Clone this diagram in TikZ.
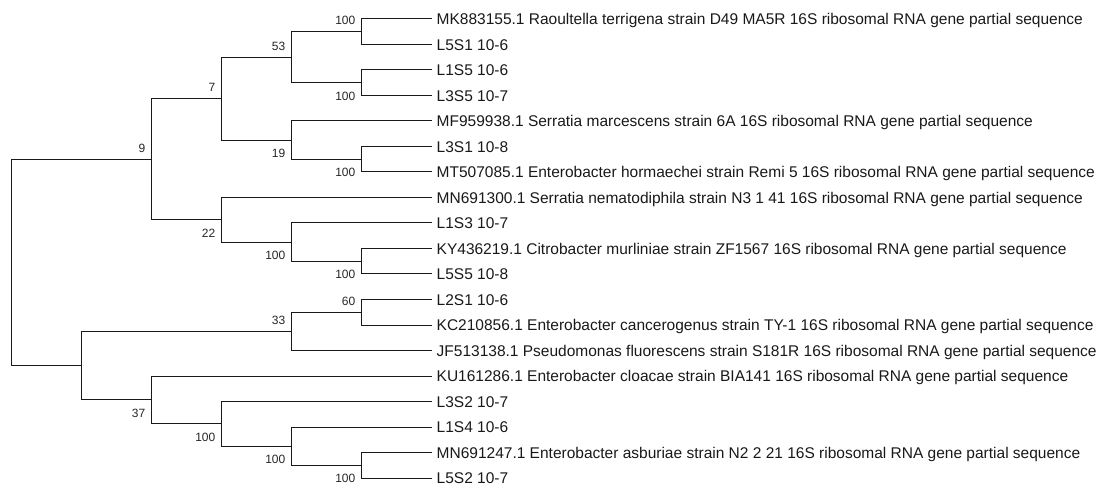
\documentclass[tikz,border=0pt]{standalone}
\usepackage{fontspec}
\setmainfont{Liberation Sans}
\begin{document}
\begin{tikzpicture}[x=1pt,y=-1pt,
  br/.style={line width=1pt,draw=black!90},
  leaf/.style={anchor=base west,inner sep=0pt,font=\fontsize{15.5}{17}\selectfont,text=black!90},
  bsup/.style={anchor=base east,inner sep=0pt,font=\fontsize{12}{14}\selectfont,text=black!85}]
\useasboundingbox (0,0) rectangle (1100,486);
% leaves
\foreach \i/\t in {0/{MK883155.1 Raoultella terrigena strain D49 MA5R 16S ribosomal RNA gene partial sequence},
  1/{L5S1 10-6},2/{L1S5 10-6},3/{L3S5 10-7},
  4/{MF959938.1 Serratia marcescens strain 6A 16S ribosomal RNA gene partial sequence},
  5/{L3S1 10-8},
  6/{MT507085.1 Enterobacter hormaechei strain Remi 5 16S ribosomal RNA gene partial sequence},
  7/{MN691300.1 Serratia nematodiphila strain N3 1 41 16S ribosomal RNA gene partial sequence},
  8/{L1S3 10-7},
  9/{KY436219.1 Citrobacter murliniae strain ZF1567 16S ribosomal RNA gene partial sequence},
  10/{L5S5 10-8},11/{L2S1 10-6},
  12/{KC210856.1 Enterobacter cancerogenus strain TY-1 16S ribosomal RNA gene partial sequence},
  13/{JF513138.1 Pseudomonas fluorescens strain S181R 16S ribosomal RNA gene partial sequence},
  14/{KU161286.1 Enterobacter cloacae strain BIA141 16S ribosomal RNA gene partial sequence},
  15/{L3S2 10-7},16/{L1S4 10-6},
  17/{MN691247.1 Enterobacter asburiae strain N2 2 21 16S ribosomal RNA gene partial sequence},
  18/{L5S2 10-7}}{
  \coordinate (l\i) at (431.5,{19+25.5*\i});
  \node[leaf] (t\i) at (436.5,{19+25.5*\i+5.6}) {\t};
}
% internal nodes
\coordinate (G) at (361.5,31.75);
\coordinate (H) at (361.5,82.75);
\coordinate (E) at (291.5,57.25);
\coordinate (I) at (361.5,159.25);
\coordinate (F) at (291.5,140.125);
\coordinate (C) at (221.5,98.69);
\coordinate (K) at (361.5,261.25);
\coordinate (J) at (291.5,242.125);
\coordinate (D) at (221.5,219.81);
\coordinate (A) at (151.5,159.25);
\coordinate (N) at (361.5,312.25);
\coordinate (L) at (291.5,331.375);
\coordinate (Q) at (361.5,465.25);
\coordinate (P) at (291.5,446.125);
\coordinate (O) at (221.5,423.81);
\coordinate (M) at (151.5,399.91);
\coordinate (B) at (81.5,365.64);
\coordinate (R) at (11.5,262.45);
% branches
\foreach \p/\c in {G/l0,G/l1,H/l2,H/l3,E/G,E/H,I/l5,I/l6,F/l4,F/I,C/E,C/F,
  K/l9,K/l10,J/l8,J/K,D/l7,D/J,A/C,A/D,
  N/l11,N/l12,L/N,L/l13,Q/l17,Q/l18,P/l16,P/Q,O/l15,O/P,M/l14,M/O,B/L,B/M,R/A,R/B}{
  \draw[br] (\p) |- (\c);
}
% bootstrap labels (above: top child, below: bottom child)
\foreach \n/\v in {G/100,E/53,C/7,A/9,N/60,L/33}{
  \node[bsup] (s\n) at ([shift={(-6,-7.2)}]\n) {\v};
}
\foreach \n/\v in {H/100,I/100,F/19,K/100,J/100,D/22,Q/100,P/100,O/100,M/37}{
  \node[bsup] (s\n) at ([shift={(-6,17.4)}]\n) {\v};
}
\end{tikzpicture}
\end{document}
